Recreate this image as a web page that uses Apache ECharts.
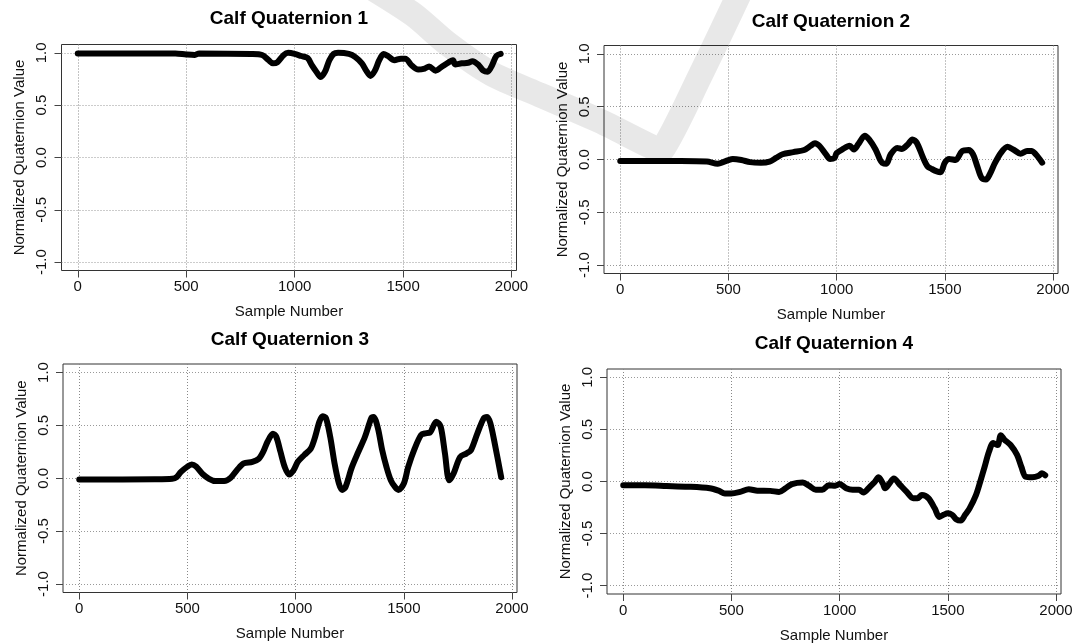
<!DOCTYPE html>
<html>
<head>
    <meta charset="utf-8" />
    <title>Calf Quaternion</title>
    <script src="https://cdn.jsdelivr.net/npm/echarts@6/dist/echarts.min.js"></script>
    <style>
        html, body { margin: 0; padding: 0; background: #fff; }
        #main { width: 1080px; height: 644px; }
    </style>
</head>
<body>
    <div id="main"></div>
    <script type="text/javascript">
        // values (sample number, normalized value)
        var xs1 = [0, 450, 500, 540, 560, 800, 850, 880, 900, 920, 950, 970, 1000, 1030, 1060, 1080, 1100, 1120, 1140, 1160, 1180, 1200, 1250, 1280, 1310, 1330, 1350, 1370, 1390, 1410, 1430, 1460, 1490, 1510, 1540, 1570, 1600, 1620, 1650, 1680, 1710, 1730, 1740, 1770, 1800, 1820, 1850, 1870, 1890, 1910, 1930, 1950];
        var q1 = [0.995, 0.995, 0.985, 0.98, 0.995, 0.99, 0.98, 0.93, 0.90, 0.91, 0.98, 1.0, 0.99, 0.97, 0.95, 0.88, 0.82, 0.77, 0.82, 0.93, 0.99, 1.0, 0.99, 0.96, 0.90, 0.83, 0.78, 0.83, 0.93, 0.99, 0.97, 0.93, 0.945, 0.945, 0.88, 0.84, 0.85, 0.87, 0.83, 0.87, 0.91, 0.93, 0.89, 0.90, 0.905, 0.92, 0.88, 0.83, 0.82, 0.88, 0.97, 0.99];

        var xs2 = [0, 280, 400, 450, 500, 520, 560, 600, 650, 690, 720, 750, 800, 850, 880, 900, 920, 950, 970, 990, 1000, 1030, 1060, 1080, 1100, 1130, 1150, 1180, 1200, 1210, 1230, 1250, 1280, 1300, 1330, 1350, 1370, 1400, 1420, 1440, 1460, 1480, 1500, 1520, 1550, 1580, 1610, 1630, 1650, 1670, 1690, 1710, 1730, 1760, 1790, 1820, 1850, 1880, 1900, 1920, 1950];
        var q2 = [-0.015, -0.015, -0.02, -0.04, -0.005, 0.005, -0.005, -0.025, -0.03, -0.02, 0.015, 0.05, 0.07, 0.09, 0.13, 0.155, 0.13, 0.05, 0.005, 0.015, 0.06, 0.10, 0.13, 0.095, 0.145, 0.225, 0.19, 0.095, 0.0, -0.03, -0.04, 0.05, 0.11, 0.10, 0.145, 0.19, 0.16, 0.015, -0.065, -0.09, -0.11, -0.12, -0.03, 0.005, -0.005, 0.08, 0.09, 0.05, -0.065, -0.175, -0.19, -0.13, -0.04, 0.065, 0.12, 0.09, 0.055, 0.08, 0.08, 0.05, -0.03];

        var xs3 = [0, 350, 430, 450, 470, 500, 520, 540, 570, 600, 630, 670, 700, 730, 760, 800, 830, 850, 870, 895, 910, 930, 950, 970, 990, 1010, 1040, 1070, 1090, 1110, 1125, 1140, 1160, 1180, 1200, 1215, 1230, 1260, 1290, 1320, 1350, 1360, 1380, 1400, 1420, 1440, 1460, 1475, 1500, 1520, 1550, 1580, 1600, 1620, 1650, 1670, 1690, 1710, 1730, 1760, 1790, 1810, 1840, 1870, 1885, 1900, 1920, 1950];
        var q3 = [-0.012, -0.01, -0.005, 0.01, 0.06, 0.11, 0.13, 0.11, 0.04, -0.005, -0.027, -0.027, 0.005, 0.08, 0.14, 0.155, 0.185, 0.25, 0.345, 0.42, 0.395, 0.25, 0.105, 0.035, 0.075, 0.155, 0.22, 0.28, 0.39, 0.535, 0.585, 0.57, 0.39, 0.14, -0.05, -0.11, -0.085, 0.105, 0.25, 0.39, 0.57, 0.58, 0.475, 0.265, 0.105, -0.02, -0.085, -0.11, -0.05, 0.105, 0.28, 0.41, 0.425, 0.43, 0.535, 0.49, 0.235, -0.02, 0.045, 0.2, 0.235, 0.265, 0.425, 0.57, 0.58, 0.52, 0.33, 0.01];

        var xs4 = [0, 100, 200, 300, 400, 440, 470, 500, 540, 580, 620, 680, 720, 750, 780, 830, 860, 890, 920, 950, 980, 1000, 1030, 1060, 1090, 1110, 1140, 1160, 1180, 1200, 1210, 1230, 1250, 1280, 1310, 1340, 1360, 1380, 1410, 1440, 1460, 1480, 1500, 1520, 1540, 1560, 1580, 1600, 1630, 1650, 1670, 1690, 1710, 1730, 1745, 1760, 1790, 1820, 1840, 1860, 1890, 1920, 1935, 1950];
        var q4 = [-0.037, -0.037, -0.043, -0.05, -0.065, -0.088, -0.115, -0.115, -0.1, -0.075, -0.088, -0.09, -0.1, -0.065, -0.025, -0.01, -0.043, -0.08, -0.08, -0.035, -0.04, -0.025, -0.065, -0.08, -0.08, -0.105, -0.05, -0.01, 0.04, -0.02, -0.065, -0.02, 0.03, -0.035, -0.1, -0.16, -0.16, -0.13, -0.16, -0.26, -0.34, -0.32, -0.305, -0.32, -0.365, -0.375, -0.32, -0.26, -0.13, 0.0, 0.14, 0.285, 0.37, 0.35, 0.445, 0.405, 0.35, 0.255, 0.14, 0.045, 0.04, 0.055, 0.08, 0.06];

        var titles = ['Calf Quaternion 1', 'Calf Quaternion 2', 'Calf Quaternion 3', 'Calf Quaternion 4'];
        var xTicks = [0, 500, 1000, 1500, 2000];
        var yTicks = [-1, -0.5, 0, 0.5, 1];

        // plot boxes (px) and title centres
        var boxes = [
            { left: 61.5, top: 44.5, width: 455, height: 226 },
            { left: 604, top: 45.5, width: 454, height: 228 },
            { left: 63, top: 364, width: 454, height: 228.5 },
            { left: 607, top: 369, width: 454, height: 226 }
        ];
        var titleY = [20.7, 23.4, 341.7, 345];

        var font = '"Liberation Sans", Arial, sans-serif';
        var sets = [[xs1, q1], [xs2, q2], [xs3, q3], [xs4, q4]];

        var chart = echarts.init(document.getElementById('main'));
        var option = {
            animation: false,
            backgroundColor: '#fff',
            title: [], grid: [], xAxis: [], yAxis: [], series: [],
            graphic: [{
                // faint watermark stroke
                type: 'polyline',
                z: 100,
                silent: true,
                shape: { points: [[372, -12], [414, 15], [448, 44], [492, 74], [540, 95], [600, 121], [650, 146], [662, 150], [700, 76], [742, -12]], smooth: 0.25 },
                style: { stroke: 'rgba(0,0,0,0.09)', lineWidth: 25, fill: null, lineJoin: 'round' }
            }]
        };

        for (var i = 0; i < 4; i++) {
            var b = boxes[i];
            option.title.push({
                text: titles[i],
                left: b.left + b.width / 2,
                top: titleY[i] - 11,
                textAlign: 'center',
                padding: 0,
                textStyle: { fontFamily: font, fontWeight: 'bold', fontSize: 19, color: '#000' }
            });
            option.grid.push({
                left: b.left, top: b.top, width: b.width, height: b.height,
                show: true, borderColor: '#333', borderWidth: 1, backgroundColor: 'transparent'
            });
            option.xAxis.push({
                gridIndex: i, type: 'value', min: -75, max: 2023,
                name: 'Sample Number', nameLocation: 'middle', nameGap: 34,
                nameTextStyle: { fontFamily: font, fontSize: 15, color: '#111' },
                axisLine: { show: false, onZero: false },
                axisTick: { show: true, length: 7, customValues: xTicks, lineStyle: { color: '#444' } },
                axisLabel: {
                    customValues: xTicks, margin: 9, fontFamily: font, fontSize: 15, color: '#111',
                    formatter: function (v) { return String(v); }
                },
                splitLine: { show: true, lineStyle: { type: [1, 2], color: '#888', width: 1 } }
            });
            option.yAxis.push({
                gridIndex: i, type: 'value', min: -1.08, max: 1.08,
                name: 'Normalized Quaternion Value', nameLocation: 'middle', nameGap: 34,
                nameTextStyle: { fontFamily: font, fontSize: 15, color: '#111' },
                axisLine: { show: false, onZero: false },
                axisTick: { show: true, length: 7, customValues: yTicks, lineStyle: { color: '#444' } },
                axisLabel: {
                    customValues: yTicks, rotate: 90, margin: 12,
                    fontFamily: font, fontSize: 15, color: '#111',
                    formatter: function (v) { return v.toFixed(1); }
                },
                splitLine: { show: true, lineStyle: { type: [1, 2], color: '#999', width: 1 } }
            });
            var pts = [];
            for (var k = 0; k < sets[i][0].length; k++) {
                pts.push([sets[i][0][k], sets[i][1][k]]);
            }
            option.series.push({
                type: 'line',
                xAxisIndex: i, yAxisIndex: i,
                data: pts,
                showSymbol: false,
                smooth: 0.3,
                lineStyle: { color: '#000', width: 6, cap: 'round', join: 'round' }
            });
        }

        chart.setOption(option, true);
    </script>
</body>
</html>
